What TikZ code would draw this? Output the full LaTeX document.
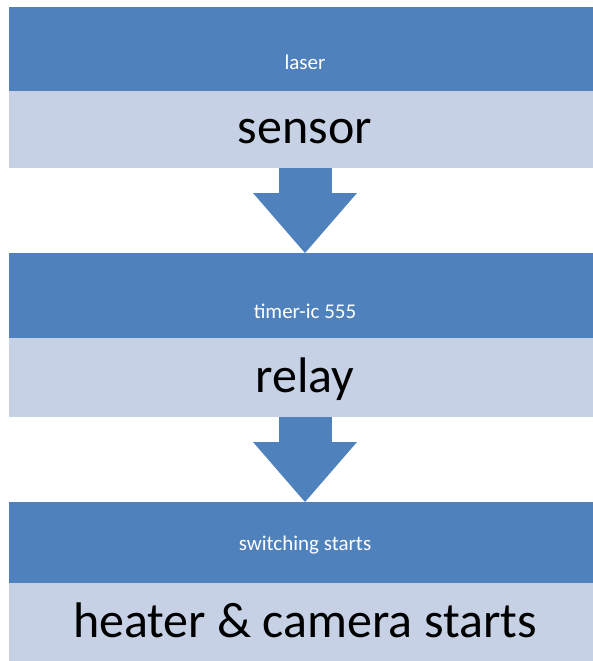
\documentclass[tikz,border=0pt]{standalone}
\usepackage{fontspec}
\setmainfont{Carlito}
\usetikzlibrary{positioning,arrows.meta}
\definecolor{darkband}{HTML}{4F81BD}
\definecolor{lightband}{HTML}{C6D1E5}

\begin{document}
\begin{tikzpicture}
		[x=1pt,y=-1pt,
		 head/.style={fill=darkband,minimum width=592pt,inner sep=0pt,outer sep=0pt},
		 body/.style={fill=lightband,minimum width=592pt,inner sep=0pt,outer sep=0pt},
		 small/.style={text=white,font=\fontsize{21}{21}\selectfont,anchor=base},
		 big/.style={text=black,font=\fontsize{50}{50}\selectfont,anchor=base},
		 flow/.style={darkband,line width=53pt,-{Triangle[width=104pt,length=60pt,line width=0pt]}}]
			\useasboundingbox (0,0) rectangle (593,661);
			% bands
			\node[head,minimum height=84pt,anchor=north] (laserband) at (305,7) {};
			\node[body,minimum height=77pt,below=0pt of laserband] (sensorband) {};
			\node[head,minimum height=85pt,anchor=north] (timerband) at (305,253) {};
			\node[body,minimum height=79pt,below=0pt of timerband] (relayband) {};
			\node[head,minimum height=81pt,anchor=north] (switchband) at (305,502) {};
			\node[body,minimum height=78pt,below=0pt of switchband] (heaterband) {};
			% texts
			\node[small] (laser) at (305,70) {laser};
			\node[big] (sensor) at (305,143) {sensor};
			\node[small] (timer) at (305,318) {timer-ic 555};
			\node[big] (relay) at (305,392) {relay};
			\node[small] (switch) at (305,550) {switching starts};
			\node[big] (heater) at (305,637) {heater \& camera starts};
			% arrows
			\draw[flow] (sensorband.south) -- (timerband.north);
			\draw[flow] (relayband.south) -- (switchband.north);
	\end{tikzpicture}
\end{document}
